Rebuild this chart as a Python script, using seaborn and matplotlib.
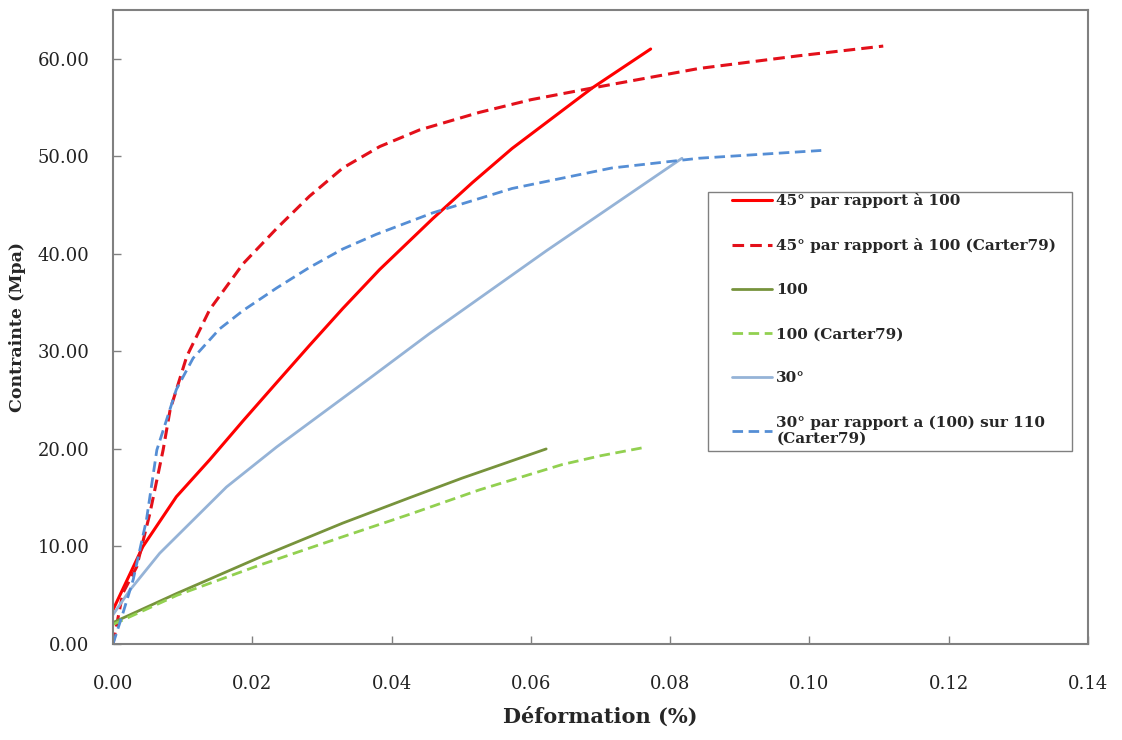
import matplotlib
matplotlib.use("Agg")
import matplotlib.pyplot as plt
import matplotlib.ticker as mtick
from matplotlib.patches import Rectangle
import pandas as pd
import seaborn as sns

# 45° par rapport à 100 (mesure)
red_x = [0.0, 0.0043, 0.0091, 0.0139, 0.0187, 0.0235, 0.0282, 0.0330, 0.0383, 0.0459,
         0.0516, 0.0573, 0.0688, 0.0772]
red_y = [3.5, 10.0, 15.1, 18.9, 22.9, 26.8, 30.6, 34.4, 38.4, 43.6,
         47.3, 50.8, 57.0, 61.0]

# 45° par rapport à 100 (Carter79)
red_c_x = [0.0, 0.0014, 0.0034, 0.0053, 0.0072, 0.0082, 0.0106, 0.0139, 0.0187, 0.0235,
           0.0282, 0.0330, 0.0383, 0.0440, 0.0526, 0.0600, 0.0688, 0.0841, 0.0984, 0.1106]
red_c_y = [0.0, 5.2, 7.9, 13.4, 19.9, 24.0, 29.5, 34.3, 39.0, 42.6,
           45.9, 48.8, 51.0, 52.7, 54.5, 55.8, 57.0, 59.0, 60.3, 61.3]

# 100
green_x = [0.0, 0.0092, 0.0211, 0.0330, 0.0426, 0.0501, 0.0622]
green_y = [2.2, 5.2, 8.9, 12.4, 15.0, 17.0, 20.0]

# 100 (Carter79)
green_c_x = [0.0, 0.0092, 0.0211, 0.0330, 0.0426, 0.0526, 0.0645, 0.0700, 0.0759]
green_c_y = [2.0, 5.0, 8.1, 11.0, 13.3, 15.8, 18.4, 19.3, 20.1]

# 30°
blue_x = [0.0, 0.0024, 0.0067, 0.0115, 0.0163, 0.0235, 0.0364, 0.0454, 0.0622, 0.0817]
blue_y = [3.0, 5.5, 9.3, 12.7, 16.1, 20.2, 27.0, 31.8, 40.3, 49.8]

# 30° par rapport a (100) sur 110 (Carter79)
blue_c_x = [0.0, 0.0014, 0.0029, 0.0048, 0.0063, 0.0091, 0.0115, 0.0153, 0.0187, 0.0235,
            0.0282, 0.0330, 0.0378, 0.0459, 0.0573, 0.0716, 0.0841, 0.1017]
blue_c_y = [0.0, 3.1, 6.6, 12.7, 19.9, 26.1, 29.3, 32.3, 34.2, 36.5,
            38.6, 40.5, 42.0, 44.2, 46.7, 48.8, 49.8, 50.6]

labels = [
    "45° par rapport à 100",
    "45° par rapport à 100 (Carter79)",
    "100",
    "100 (Carter79)",
    "30°",
    "30° par rapport a (100) sur 110\n(Carter79)",
]

x_ticks = [0.00, 0.02, 0.04, 0.06, 0.08, 0.10, 0.12, 0.14]
y_ticks = [0, 10, 20, 30, 40, 50, 60]

series = [
    (red_x, red_y, "#FF0000", "-", 2.2),
    (red_c_x, red_c_y, "#E3101A", "--", 2.2),
    (green_x, green_y, "#77933C", "-", 2.0),
    (green_c_x, green_c_y, "#92D050", "--", 2.0),
    (blue_x, blue_y, "#95B3D7", "-", 2.0),
    (blue_c_x, blue_c_y, "#558ED5", "--", 2.0),
]

sns.set_style("white")
plt.rcParams["font.family"] = ["DejaVu Serif"]

fig = plt.figure(figsize=(11.22, 7.4), dpi=100)
ax = fig.add_axes([0.1007, 0.1297, 0.869, 0.8568])

for (xs, ys, col, ls, lw), lab in zip(series, labels):
    df = pd.DataFrame({"x": xs, "y": ys})
    sns.lineplot(data=df, x="x", y="y", ax=ax, color=col, linewidth=lw,
                 sort=False, estimator=None, label=lab)
    if ls == "--":
        ax.get_lines()[-1].set_dashes([3.8, 2.0])

ax.set_xlim(0, 0.14)
ax.set_ylim(0, 65)
ax.set_xticks(x_ticks)
ax.set_yticks(y_ticks)
ax.xaxis.set_major_formatter(mtick.FormatStrFormatter("%.2f"))
ax.yaxis.set_major_formatter(mtick.FormatStrFormatter("%.2f"))
ax.tick_params(direction="in", length=6, width=1, color="#808080",
               labelsize=13, labelcolor="#222222", bottom=True, left=True)
ax.tick_params(axis="x", pad=22)
ax.tick_params(axis="y", pad=17)

for sp in ax.spines.values():
    sp.set_color("#808080")
    sp.set_linewidth(1.5)

ax.set_xlabel("Déformation (%)", fontsize=15, fontweight="bold", labelpad=10)
ax.set_ylabel("Contrainte (Mpa)", fontsize=12.5, fontweight="bold", labelpad=8)

# legend box drawn separately so the padding matches the original
ax.add_patch(Rectangle((0.6103, 0.3044), 0.3733, 0.4085, transform=ax.transAxes,
                       facecolor="white", edgecolor="#808080", linewidth=1.0, zorder=4))
leg = ax.legend(loc="upper left", bbox_to_anchor=(0.6349, 0.7114), frameon=False,
                prop={"weight": "bold", "size": 11}, labelspacing=1.97,
                handlelength=2.6, handletextpad=0.3, borderpad=0, borderaxespad=0)
leg.set_zorder(5)

fig.savefig("out.png", dpi=100)
